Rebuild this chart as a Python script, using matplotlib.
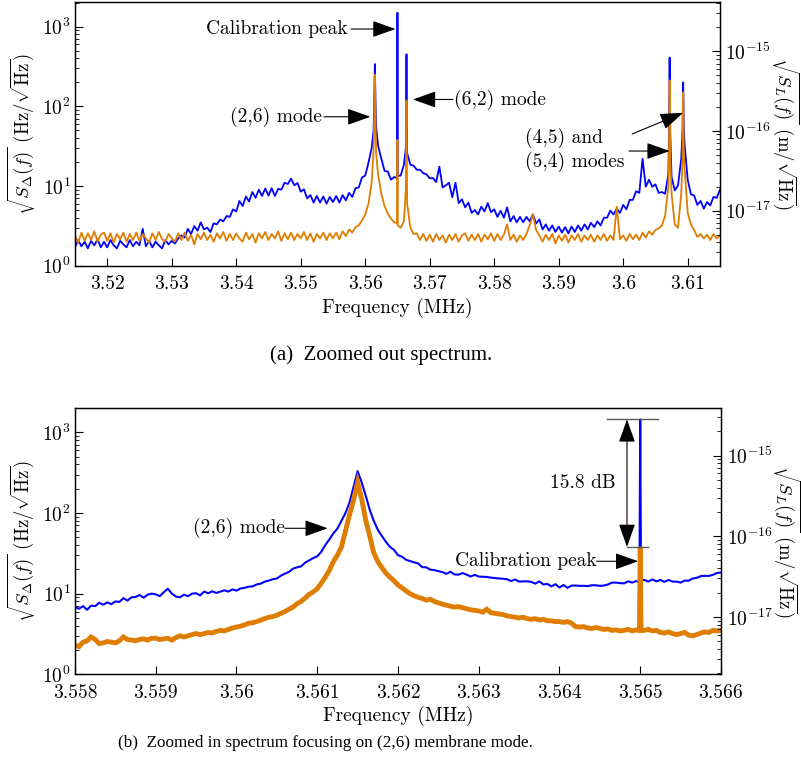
import numpy as np
import matplotlib
matplotlib.use('Agg')
import matplotlib.pyplot as plt
from matplotlib.ticker import FuncFormatter, FixedLocator, NullFormatter, LogFormatterSciNotation

plt.rcParams['font.family'] = 'serif'
plt.rcParams['font.serif'] = ['cmr10']
plt.rcParams['mathtext.fontset'] = 'cm'
plt.rcParams['axes.formatter.use_mathtext'] = True

BLUE = '#0000ff'
ORANGE = '#de7d00'
FS = 14

# ---------------- (a) wide span, 0.5 kHz bins from 3.515 to 3.615 MHz
blue_a = [
    1.7, 2.1, 1.75, 2.0, 1.65, 2.05, 1.8, 2.15, 1.7, 2.0,
    1.7, 2.1, 1.8, 1.65, 2.05, 1.85, 1.7, 2.1, 1.75, 2.0,
    1.8, 2.9, 1.75, 2.05, 1.7, 2.0, 1.8, 1.65, 2.1, 1.85,
    2.05, 1.9, 2.2, 2.4, 2.25, 2.9, 2.5, 3.15, 2.75, 3.5,
    2.85, 3.0, 2.65, 3.4, 3.3, 3.8, 3.6, 4.2, 4.1, 5.1,
    4.8, 6.5, 5.6, 7.4, 6.4, 8.4, 7.1, 9.0, 7.5, 9.3,
    7.6, 9.4, 7.5, 9.2, 9.0, 11.0, 10.6, 12.4, 10.2, 10.9,
    8.5, 9.1, 7.0, 7.7, 6.2, 7.5, 6.2, 7.4, 6.0, 7.3,
    6.3, 7.5, 6.2, 7.7, 6.6, 8.2, 7.3, 9.4, 9.6, 12.8,
    13.5, 19.5, 30, 340, 32, 22, 15.5, 15.2, 12.0, 13.0,
    1500, 13.5, 18.5, 26, 18.5, 18.0, 16.0, 16.0, 14.5, 14.0,
    12.5, 12.6, 11.2, 17.5, 9.6, 10.2, 11.0, 7.2, 11.0, 6.1,
    6.8, 5.4, 6.2, 4.6, 5.0, 4.4, 5.5, 4.8, 6.1, 4.7,
    5.1, 4.1, 4.9, 4.0, 5.4, 3.6, 4.2, 3.5, 4.1, 3.5,
    4.1, 3.6, 4.4, 3.4, 3.8, 2.85, 3.3, 2.75, 3.2, 2.65,
    3.1, 2.6, 3.05, 2.55, 3.1, 2.65, 3.2, 2.75, 3.3, 2.85,
    3.45, 3.05, 3.6, 3.2, 4.0, 4.0, 4.9, 4.4, 5.2, 4.6,
    5.8, 5.1, 6.7, 6.7, 8.6, 8.2, 22, 9.8, 12.0, 9.8,
    10.5, 8.2, 8.4, 8.0, 14, 13, 8.8, 10.2, 22, 35,
    12, 7.9, 7.6, 5.8, 6.5, 5.2, 6.3, 5.7, 7.3, 7.1, 9.0,
]
orange_a = [
    2.4, 1.95, 2.6, 2.05, 2.55, 2.1, 2.7, 2.0, 2.45, 2.6,
    2.05, 2.55, 1.95, 2.5, 2.15, 2.6, 2.0, 2.5, 2.1, 2.6,
    2.05, 2.5, 2.2, 1.95, 2.55, 2.1, 2.65, 2.15, 2.0, 2.5,
    2.2, 2.0, 2.55, 2.1, 2.6, 2.05, 2.45, 1.85, 2.5, 2.15,
    2.6, 2.1, 2.45, 2.0, 2.55, 2.2, 2.65, 2.05, 2.5, 2.1,
    2.55, 2.2, 2.0, 2.6, 2.15, 2.5, 1.95, 2.55, 2.2, 2.65,
    2.1, 2.5, 2.2, 2.7, 2.05, 2.55, 2.15, 2.6, 2.1, 2.5,
    2.2, 2.65, 2.1, 2.55, 2.0, 2.5, 2.2, 2.6, 2.1, 2.55,
    2.2, 2.6, 2.15, 2.7, 2.35, 2.85, 2.6, 3.05, 3.2, 3.7,
    4.4, 6.0, 11, 250, 14, 8.0, 5.6, 4.5, 3.9, 3.5,
    38, 3.0, 3.6, 6.0, 3.0, 2.5, 2.55, 2.1, 2.5, 2.05,
    2.45, 2.0, 2.5, 2.1, 2.4, 1.95, 2.45, 2.1, 2.5, 2.0,
    2.4, 2.55, 2.05, 2.45, 2.1, 2.5, 2.0, 2.45, 2.15, 2.55,
    2.05, 2.5, 2.1, 2.45, 3.3, 2.1, 2.45, 2.0, 2.4, 2.1,
    2.5, 3.2, 4.4, 2.8, 2.4, 2.0, 2.45, 2.1, 2.5, 1.9,
    2.4, 2.05, 2.45, 1.95, 2.4, 2.1, 2.5, 2.0, 2.4, 2.1,
    2.45, 2.0, 2.4, 2.1, 2.5, 2.05, 2.4, 2.1, 5.5, 2.15,
    2.4, 2.05, 2.5, 2.15, 2.45, 2.1, 2.6, 2.25, 2.7, 2.45,
    2.8, 2.95, 3.2, 4.2, 10, 8, 3.3, 3.0, 8, 18,
    4.6, 3.3, 2.8, 2.3, 2.5, 2.2, 2.45, 2.1, 2.5, 2.2, 2.4,
]
# extra samples resolving the narrow mode / calibration lines
peak_f_a = [3.5613, 3.5614, 3.5616, 3.5617, 3.56497, 3.56503,
            3.5663, 3.5664, 3.6071, 3.6072, 3.6073, 3.6092, 3.6093, 3.6094]
peak_blue_a = [50, 120, 110, 55, 12.5, 13.5, 30, 450, 40, 410, 45, 50, 200, 55]
peak_orange_a = [28, 75, 70, 25, 3.4, 3.2, 9, 118, 25, 212, 22, 22, 150, 24]

# ---------------- (b) narrow span, 50 Hz bins from 3.558 to 3.566 MHz
blue_b = [
    6.8, 6.5, 7.0, 6.3, 7.1, 7.0, 7.7, 7.3, 7.8, 7.4,
    8.0, 7.9, 8.8, 8.2, 9.0, 9.1, 9.6, 8.9, 9.7, 10.0,
    9.8, 9.3, 10.4, 11.5, 10.0, 9.2, 9.0, 9.7, 9.3, 10.0,
    10.1, 9.5, 10.6, 10.1, 10.7, 10.2, 10.6, 11.0, 10.6, 11.3,
    10.9, 11.6, 11.8, 12.2, 12.3, 13.0, 13.3, 14.1, 14.5, 15.1,
    15.4, 16.7, 17.7, 18.6, 20.4, 21.2, 21.8, 24.2, 25.8, 27.6,
    29, 33, 40, 47, 56, 64, 80, 100, 135, 210,
    330, 240, 165, 110, 80, 62, 52, 44, 38, 35,
    30, 28.7, 26.3, 25.3, 24.4, 23.7, 21.3, 21.2, 19.8, 19.6,
    19.0, 18.5, 17.6, 18.7, 17.3, 17.2, 18.0, 17.2, 16.3, 17.1,
    16.3, 16.2, 16.1, 15.8, 15.6, 15.4, 15.3, 15.1, 14.3, 15.0,
    14.1, 14.2, 14.2, 14.0, 13.3, 14.2, 13.0, 13.2, 12.3, 13.1,
    11.9, 12.8, 11.8, 12.6, 12.6, 12.5, 12.5, 12.4, 12.7, 12.7,
    12.5, 12.6, 13.0, 13.7, 13.7, 13.5, 13.4, 14.2, 13.7, 14.3,
    1450, 14.8, 14.1, 15.0, 14.2, 14.8, 14.0, 14.8, 14.1, 14.1,
    13.7, 14.5, 14.5, 15.4, 15.7, 16.5, 16.6, 16.6, 17.1, 18.0, 18.3,
]
orange_b = [
    2.3, 2.2, 2.5, 2.6, 2.9, 2.7, 2.4, 2.45, 2.55, 2.5,
    2.45, 2.6, 2.9, 2.7, 2.65, 2.6, 2.7, 2.75, 2.65, 2.8,
    2.8, 2.7, 2.75, 2.8, 2.65, 2.85, 3.0, 2.9, 3.0, 3.1,
    3.2, 3.1, 3.2, 3.3, 3.25, 3.4, 3.5, 3.45, 3.6, 3.75,
    3.85, 3.95, 4.1, 4.3, 4.35, 4.5, 4.7, 4.9, 5.1, 5.2,
    5.4, 5.7, 6.0, 6.4, 6.8, 7.5, 8.0, 8.8, 9.8, 10.5,
    11.5, 13.5, 16, 19.5, 25, 30, 38, 60, 95, 145,
    240, 150, 82, 52, 32, 25, 21, 18, 16, 14.5,
    12.8, 11.8, 10.8, 10.0, 9.4, 9.0, 8.7, 8.3, 8.5, 8.0,
    7.7, 7.4, 7.2, 7.0, 6.8, 6.9, 6.7, 6.5, 6.3, 6.2,
    6.1, 5.9, 6.4, 5.8, 5.7, 5.6, 5.5, 5.3, 5.2, 5.1,
    5.0, 5.1, 4.9, 4.8, 4.9, 4.7, 4.8, 4.6, 4.6, 4.5,
    4.5, 4.4, 4.5, 4.3, 3.9, 3.85, 3.9, 3.75, 3.7, 3.8,
    3.7, 3.6, 3.65, 3.5, 3.55, 3.45, 3.5, 3.6, 3.45, 3.55,
    38, 3.5, 3.6, 3.45, 3.5, 3.3, 3.25, 3.35, 3.2, 3.1,
    3.2, 3.3, 3.05, 3.0, 3.1, 3.25, 3.35, 3.3, 3.5, 3.45, 3.5,
]
peak_f_b = [3.56499, 3.56501]
peak_blue_b = [14.0, 14.5]
peak_orange_b = [3.5, 3.5]

CAL_BLUE = 1450   # calibration tone, probe trace
CAL_ORANGE = 38   # calibration tone, reference trace

left_decades = [1e0, 1e1, 1e2, 1e3]
right_decades = [1e-17, 1e-16, 1e-15]

freq_a = np.linspace(3.515, 3.615, len(blue_a))
freq_b = np.linspace(3.558, 3.566, len(blue_b))


def merge(f_grid, v_grid, f_extra, v_extra):
    f = np.concatenate([f_grid, f_extra])
    v = np.concatenate([v_grid, v_extra])
    order = np.argsort(f, kind='stable')
    return f[order], v[order]


def minor_ticks(lo, hi):
    out = []
    for e in range(int(np.floor(np.log10(lo))), int(np.ceil(np.log10(hi))) + 1):
        for m in range(2, 10):
            t = m * 10.0 ** e
            if lo <= t <= hi:
                out.append(t)
    return out


def style_axes(ax, ax2, xticks, right_lim):
    ax.set_yscale('log')
    ax2.set_yscale('log')
    ax2.set_ylim(*right_lim)
    ax.set_xticks(xticks)
    ax.xaxis.set_major_formatter(FuncFormatter(lambda v, p: '%g' % round(v, 4)))
    ax.yaxis.set_major_locator(FixedLocator(left_decades))
    ax2.yaxis.set_major_locator(FixedLocator(right_decades))
    for a in (ax, ax2):
        lo, hi = a.get_ylim()
        a.yaxis.set_major_formatter(LogFormatterSciNotation())
        a.yaxis.set_minor_locator(FixedLocator(minor_ticks(lo, hi)))
        a.yaxis.set_minor_formatter(NullFormatter())
    ax.tick_params(axis='both', which='major', direction='in', length=6, width=0.8,
                   labelsize=FS, top=False, right=False)
    ax.tick_params(axis='y', which='minor', direction='in', length=3, width=0.6, right=False)
    ax.tick_params(axis='x', which='major', pad=7)
    ax.tick_params(axis='y', which='major', pad=3)
    ax2.tick_params(axis='y', which='major', direction='in', length=6, width=0.8,
                    labelsize=FS, pad=4)
    ax2.tick_params(axis='y', which='minor', direction='in', length=3, width=0.6)
    for sp in list(ax.spines.values()) + list(ax2.spines.values()):
        sp.set_linewidth(0.9)
    ax.set_xlabel('Frequency (MHz)', fontsize=FS, labelpad=3)
    ax.set_ylabel(r'$\sqrt{S_\Delta(f)}$ (Hz/$\sqrt{\mathrm{Hz}}$)', fontsize=13.5, labelpad=3)
    ax2.set_ylabel(r'$\sqrt{S_L(f)}$ (m/$\sqrt{\mathrm{Hz}}$)', fontsize=13.5,
                   rotation=270, va='bottom', labelpad=-2)


def arrow(ax, tail, tip, style='-|>'):
    ax.annotate('', xy=tip, xytext=tail,
                arrowprops=dict(arrowstyle=style + ',head_length=0.9,head_width=0.32',
                                color='k', lw=0.8, mutation_scale=16,
                                shrinkA=0, shrinkB=0))


fig = plt.figure(figsize=(8.01, 7.67), dpi=100)

# ---------------- (a)
ax = fig.add_axes([0.0936, 0.6536, 0.8052, 0.3442])
ax2 = ax.twinx()
fb, vb = merge(freq_a, blue_a, peak_f_a, peak_blue_a)
fo, vo = merge(freq_a, orange_a, peak_f_a, peak_orange_a)
ax.plot(fb, vb, color=BLUE, lw=1.3)
ax.plot(fo, vo, color=ORANGE, lw=1.3)
ax.set_xlim(3.515, 3.615)
ax.set_ylim(1, 2060)
style_axes(ax, ax2, [3.52, 3.53, 3.54, 3.55, 3.56, 3.57, 3.58, 3.59, 3.60, 3.61],
           (2.03e-18, 4.18e-15))

ax.text(3.5573, 935, 'Calibration peak', ha='right', va='center', fontsize=FS)
arrow(ax, (3.5578, 935), (3.5647, 935))
ax.text(3.5533, 74, '(2,6) mode', ha='right', va='center', fontsize=FS)
arrow(ax, (3.5536, 74), (3.5608, 74))
ax.text(3.5738, 122, '(6,2) mode', ha='left', va='center', fontsize=FS)
arrow(ax, (3.5736, 122), (3.5674, 122))
ax.text(3.5848, 40, '(4,5) and', ha='left', va='center', fontsize=FS)
ax.text(3.5848, 20, '(5,4) modes', ha='left', va='center', fontsize=FS)
arrow(ax, (3.6014, 45), (3.6093, 83))
arrow(ax, (3.6009, 27.5), (3.6072, 27.5))

# ---------------- (b)
bx = fig.add_axes([0.0936, 0.1209, 0.8065, 0.3468])
bx2 = bx.twinx()
fb, vb = merge(freq_b, blue_b, peak_f_b, peak_blue_b)
fo, vo = merge(freq_b, orange_b, peak_f_b, peak_orange_b)
bx.plot(fb, vb, color=BLUE, lw=1.5)
bx.plot(fo, vo, color=ORANGE, lw=3.5, solid_joinstyle='miter')
bx.set_xlim(3.558, 3.566)
bx.set_ylim(1, 1990)
style_axes(bx, bx2, [3.558, 3.559, 3.560, 3.561, 3.562, 3.563, 3.564, 3.565, 3.566],
           (1.94e-18, 3.86e-15))

bx.text(3.5606, 64.6, '(2,6) mode', ha='right', va='center', fontsize=FS)
arrow(bx, (3.5606, 64.6), (3.56113, 64.6))
bx.plot([3.56459, 3.56522], [CAL_BLUE, CAL_BLUE], color='0.35', lw=1.0)
bx.plot([3.56484, 3.56510], [CAL_ORANGE, CAL_ORANGE], color='0.35', lw=1.0)
arrow(bx, (3.564836, CAL_ORANGE), (3.564836, CAL_BLUE), style='<|-|>')
db = 10 * np.log10(CAL_BLUE / CAL_ORANGE)
bx.text(3.56429, 233, '%.1f dB' % db, ha='center', va='center', fontsize=FS)
bx.text(3.56446, 25.2, 'Calibration peak', ha='right', va='center', fontsize=FS)
arrow(bx, (3.56446, 25.2), (3.564975, 25.2))

# sub-figure captions
fig.text(270 / 801, 1 - 355 / 767, '(a)  Zoomed out spectrum.', ha='left', va='center',
         fontsize=15, family='Liberation Serif')
fig.text(118 / 801, 1 - 743 / 767, '(b)  Zoomed in spectrum focusing on (2,6) membrane mode.',
         ha='left', va='center', fontsize=12.3, family='Liberation Serif')

fig.savefig('out.png', dpi=100)
